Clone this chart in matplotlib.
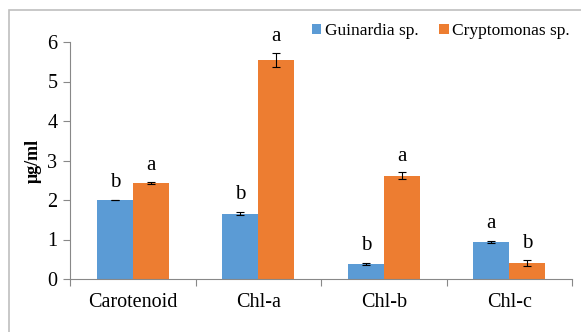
import numpy as np
import matplotlib
matplotlib.use("Agg")
import matplotlib.pyplot as plt
from matplotlib.patches import Rectangle

# data
categories = ["Carotenoid", "Chl-a", "Chl-b", "Chl-c"]
guinardia = [2.00, 1.65, 0.38, 0.94]
guinardia_err = [0.01, 0.04, 0.02, 0.02]
crypto = [2.43, 5.54, 2.61, 0.40]
crypto_err = [0.03, 0.18, 0.09, 0.08]
guinardia_letters = ["b", "b", "b", "a"]
crypto_letters = ["a", "a", "a", "b"]

plt.rcParams['font.family'] = ['Liberation Serif', 'DejaVu Serif']

fig = plt.figure(figsize=(5.81, 3.32), dpi=100)
# light grey frame around the chart
fig.patches.append(Rectangle((9/581, -0.05), 1.1, 1 - 10/332 + 0.05,
                             transform=fig.transFigure, fill=False,
                             edgecolor="#bfbfbf", linewidth=1.2))

ax = fig.add_axes([70/581, 1 - 279/332, 502/581, (279 - 42)/332])

x = np.arange(len(categories))
w = 0.287
ax.bar(x - w/2, guinardia, w, color="#5B9BD5", label="Guinardia sp.",
       yerr=guinardia_err, error_kw=dict(ecolor="black", capsize=3, elinewidth=0.8, capthick=0.8))
ax.bar(x + w/2, crypto, w, color="#ED7D31", label="Cryptomonas sp.",
       yerr=crypto_err, error_kw=dict(ecolor="black", capsize=3, elinewidth=0.8, capthick=0.8))

for i in range(len(categories)):
    ax.text(x[i] - w/2, guinardia[i] + guinardia_err[i] + 0.2, guinardia_letters[i],
            ha="center", va="bottom", fontsize=15)
    ax.text(x[i] + w/2, crypto[i] + crypto_err[i] + 0.17, crypto_letters[i],
            ha="center", va="bottom", fontsize=15)

ax.set_xlim(-0.5, len(categories) - 0.5)
ax.set_ylim(0, 6)
ax.set_yticks(range(7))
ax.tick_params(axis="y", labelsize=14.5, length=5, color="#888888", pad=4)

ax.set_xticks(np.arange(-0.5, len(categories), 1.0))
ax.set_xticklabels([])
ax.tick_params(axis="x", which="major", length=5, color="#888888")
ax.set_xticks(x, minor=True)
ax.set_xticklabels(categories, minor=True, fontsize=14.5)
ax.tick_params(axis="x", which="minor", length=0, pad=10)

for s in ["top", "right"]:
    ax.spines[s].set_visible(False)
for s in ["left", "bottom"]:
    ax.spines[s].set_color("#888888")

ax.set_ylabel("μg/ml", fontsize=13, fontweight="bold", labelpad=4)

ax.legend(loc="upper left", bbox_to_anchor=(0.45, 1.145), ncol=2, frameon=False,
          fontsize=12.5, handlelength=0.55, handleheight=0.55, handletextpad=0.2,
          columnspacing=1.2)

fig.savefig("out.png", dpi=100)
